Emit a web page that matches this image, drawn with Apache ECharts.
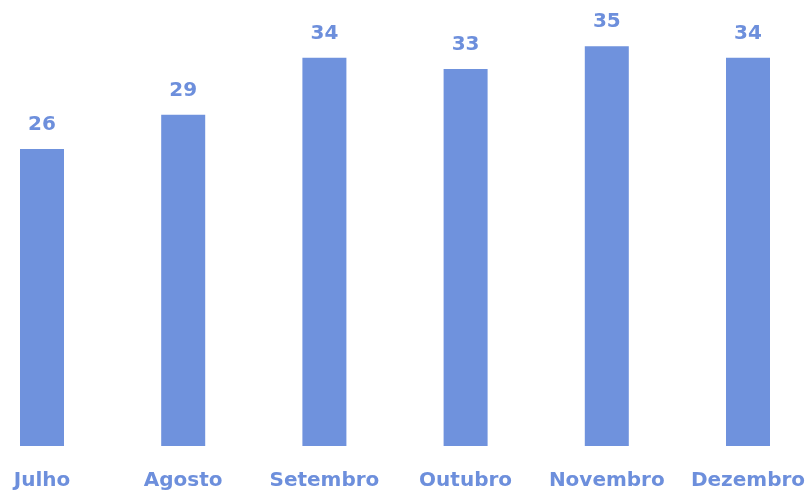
<!DOCTYPE html>
<html>
<head>
<meta charset="utf-8">
<script src="https://cdn.jsdelivr.net/npm/echarts@6/dist/echarts.min.js"></script>
<style>
html,body{margin:0;padding:0;background:#fff;}
#chart{width:812px;height:493px;}
</style>
</head>
<body>
<div id="chart"></div>
<script>
const categories = ['Julho', 'Agosto', 'Setembro', 'Outubro', 'Novembro', 'Dezembro'];
const values = [26, 29, 34, 33, 35, 34];

const chart = echarts.init(document.getElementById('chart'), null, {renderer: 'canvas'});
chart.setOption({
  backgroundColor: '#ffffff',
  animation: false,
  grid: {left: 42, right: 64, top: 12, bottom: 47, containLabel: false},
  xAxis: {
    type: 'category',
    data: categories,
    boundaryGap: false,
    axisLine: {show: false},
    axisTick: {show: false},
    splitLine: {show: false},
    axisLabel: {
      margin: 25,
      color: '#6d8fdc',
      fontSize: 20,
      fontWeight: 'bold',
      fontFamily: '"DejaVu Sans", sans-serif',
      interval: 0
    }
  },
  yAxis: {
    type: 'value',
    min: 0,
    max: 38,
    show: false,
    splitLine: {show: false}
  },
  series: [{
    type: 'bar',
    data: values,
    barWidth: 44,
    itemStyle: {color: '#6f92dd'},
    label: {
      show: true,
      position: 'top',
      distance: 14,
      color: '#6d8fdc',
      fontSize: 20,
      fontWeight: 'bold',
      fontFamily: '"DejaVu Sans", sans-serif'
    }
  }]
});
</script>
</body>
</html>
